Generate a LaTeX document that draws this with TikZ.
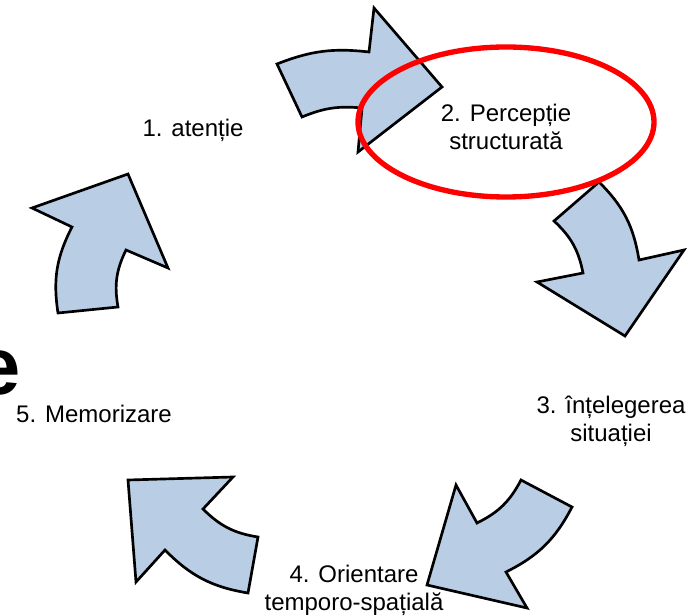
\documentclass[tikz,border=0pt]{standalone}
\usepackage{fontspec}
\setmainfont{Liberation Sans}
\usetikzlibrary{
arrows.meta,
positioning
}
\definecolor{arrowfill}{HTML}{B9CDE5}
\definecolor{ringred}{HTML}{FF0000}

\begin{document}
\begin{tikzpicture}[
x=0.75pt,
y=0.75pt,
cyclearrow/.style={
draw=black,
fill=arrowfill,
line width=2pt,
line join=miter
},
stage/.style={
font=\fontsize{18}{21}\selectfont,
align=center,
inner sep=0pt,
anchor=base
},
ring/.style={
draw=ringred,
line width=4pt
}
]
\useasboundingbox (0,0) rectangle (696,-616);

% the five curved arrows of the cycle
\draw[cyclearrow] (277,-64) to[bend left=14] (369,-52) -- (374,-8) -- (442,-87)
-- (358,-152) -- (362,-108) to[bend right=14] (302,-117) -- cycle;
\draw[cyclearrow] (599,-182) to[bend left=18] (639,-260) -- (684,-250) -- (625,-336)
-- (537,-282) -- (583,-273) to[bend right=18] (554,-221) -- cycle;
\draw[cyclearrow] (572,-507) to[bend left=18] (506,-572) -- (527,-608) -- (427,-585)
-- (456,-485) -- (477,-523) to[bend right=18] (521,-480) -- cycle;
\draw[cyclearrow] (248,-593) to[bend left=18] (165,-550) -- (136,-582) -- (128,-480)
-- (233,-477) -- (203,-509) to[bend right=18] (258,-537) -- cycle;
\draw[cyclearrow] (58,-313) to[bend left=18] (72,-227) -- (32,-208) -- (128,-174)
-- (168,-268) -- (126,-250) to[bend right=18] (118,-307) -- cycle;

% highlight
\draw[ring] (506,-122) ellipse [x radius=148, y radius=75];

\node[font=\fontsize{61}{61}\selectfont\bfseries, anchor=base east, inner sep=0pt]
(cutletter) at (21,-395) {e};

% base of a two-line node = last line
\node[stage] (attention) at (193,-137) {1. atenție};
\node[stage] (perception) at (506,-150) {2. Percepție\\structurată};
\node[stage] (understanding) at (611,-441) {3. înțelegerea\\situației};
\node[stage] (orientation) at (354,-610) {4. Orientare\\temporo-spațială};
\node[stage] (memorizing) at (94,-422) {5. Memorizare};

\end{tikzpicture}
\end{document}
